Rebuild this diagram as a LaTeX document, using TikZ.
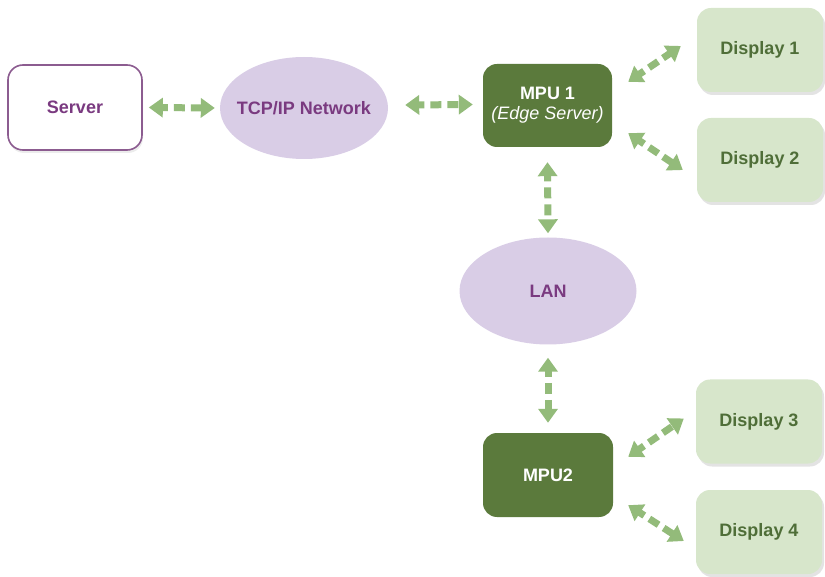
\documentclass[tikz,border=0pt]{standalone}
\usepackage{fontspec}
\setmainfont{Liberation Sans}
\usetikzlibrary{arrows.meta,shapes.geometric,shadows}
\definecolor{purp}{HTML}{7A3A80}
\definecolor{purpline}{HTML}{8C5C90}
\definecolor{lav}{HTML}{D9CDE6}
\definecolor{mpugreen}{HTML}{5B7A3C}
\definecolor{arrgreen}{HTML}{93BB7A}
\definecolor{dispfill}{HTML}{D7E6CB}
\definecolor{disptext}{HTML}{4F6E38}
\tikzset{
  serverbox/.style={draw=purpline, line width=1.6pt, fill=white, rounded corners=15pt,
    minimum width=134pt, minimum height=85pt, inner sep=0pt, text=purp,
    drop shadow={shadow xshift=1pt, shadow yshift=-3pt, opacity=0.12, fill=black!60}},
  netcloud/.style={ellipse, fill=lav, inner sep=0pt, text=purp},
  mpubox/.style={fill=mpugreen, rounded corners=14pt, minimum width=129pt,
    minimum height=83pt, inner sep=0pt, text=white, align=center},
  dispbox/.style={fill=dispfill, rounded corners=14pt, minimum width=126pt,
    minimum height=84pt, inner sep=0pt, text=disptext,
    drop shadow={shadow xshift=2pt, shadow yshift=-3pt, opacity=0.18, fill=black!60}},
  link/.style={draw=arrgreen, line width=7pt, dash pattern=on 11pt off 6pt, dash phase=5pt,
    {Triangle[width=19pt,length=14pt,fill=arrgreen]}-{Triangle[width=19pt,length=14pt,fill=arrgreen]}}
}
\begin{document}
\begin{tikzpicture}[x=1pt,y=-1pt, font=\bfseries\fontsize{18}{21}\selectfont]
\useasboundingbox (0,0) rectangle (825,577);
\node[serverbox] (server) at (75,107.5) {Server};
\node[netcloud, inner xsep=-8pt, minimum width=168pt, minimum height=102pt] (tcp) at (304,108) {TCP/IP Network};
\node[mpubox] (mpu1) at (547.5,105.5) {MPU 1\\[-1pt]{\mdseries\itshape (Edge Server)}};
\node[netcloud, minimum width=177pt, minimum height=107pt] (lan) at (548,291) {LAN};
\node[mpubox, minimum width=130pt, minimum height=84pt] (mpu2) at (548,475) {MPU2};
\node[dispbox] (d1) at (760,50) {Display 1};
\node[dispbox] (d2) at (760,160) {Display 2};
\node[dispbox] (d3) at (759,421.5) {Display 3};
\node[dispbox] (d4) at (759,532) {Display 4};

\draw[link] ([shift={(6,0)}]server.east) -- ([shift={(-5,0)}]tcp.west);
\draw[link] ([shift={(17,-3)}]tcp.east) -- ([shift={(-10,-1)}]mpu1.west);
\draw[link] ([shift={(0,15)}]mpu1.south) -- ([shift={(0,-4)}]lan.north);
\draw[link] ([shift={(0,13)}]lan.south) -- ([shift={(0,-10)}]mpu2.north);
\draw[link] ([shift={(16,18)}]mpu1.north east) -- ([shift={(-16,-4)}]d1.west);
\draw[link] ([shift={(16,-14)}]mpu1.south east) -- ([shift={(-14,10)}]d2.west);
\draw[link] ([shift={(15,24)}]mpu2.north east) -- ([shift={(-12,-3)}]d3.west);
\draw[link] ([shift={(15,-12)}]mpu2.south east) -- ([shift={(-12,9)}]d4.west);
\end{tikzpicture}
\end{document}
